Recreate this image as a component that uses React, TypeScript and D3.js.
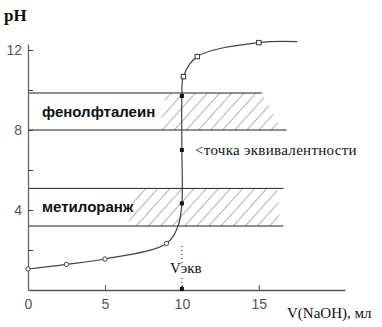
import React, { useEffect, useRef } from "react";
import * as d3 from "d3";

// Titration curve: volume of NaOH (ml) vs pH
const volume = [0, 2.5, 5, 9, 9.75, 10, 10, 10, 10.1, 11, 15, 17.5];
const phValues = [1.05, 1.28, 1.55, 2.33, 3.2, 4.33, 7.0, 9.7, 10.67, 11.67, 12.37, 12.42];

// Markers on the curve
const openCircleV = [0, 2.5, 5, 9];
const openCirclePh = [1.05, 1.28, 1.55, 2.33];
const openSquareV = [10.1, 11, 15];
const openSquarePh = [10.67, 11.67, 12.37];
const filledV = [10, 10, 10];
const filledPh = [4.33, 7.0, 9.7];

// Indicator transition ranges (pH)
const indicatorNames = ["фенолфталеин", "метилоранж"];
const indicatorLow = [8.0, 3.2];
const indicatorHigh = [9.85, 5.08];
const indicatorLineEndTop = [15.2, 16.6];
const indicatorLineEndBottom = [16.8, 16.6];
const hatchStart = [9.0, 7.0];
const hatchEndTop = [15.2, 16.2];
const hatchEndBottom = [16.5, 16.4];

const xTicks = [0, 5, 10, 15];
const yTicks = [2, 4, 6, 8, 10, 12];
const yLabelled = [4, 8, 12];
const equivalenceV = 10;

const W = 382;
const H = 327;

export default function App() {
  const xAxisRef = useRef<SVGGElement>(null);
  const yAxisRef = useRef<SVGGElement>(null);

  const x = d3.scaleLinear().domain([0, 20.6]).range([28, 345]);
  const y = d3.scaleLinear().domain([0, 12.3]).range([290, 44]);

  useEffect(() => {
    const xa = d3
      .axisBottom(x)
      .tickValues(xTicks)
      .tickSizeInner(-5)
      .tickSizeOuter(0)
      .tickPadding(9)
      .tickFormat((d) => String(d));
    const gx = d3.select(xAxisRef.current!);
    gx.call(xa as any);
    gx.select(".domain").attr("stroke", "#555").attr("stroke-width", 1.3);
    gx.selectAll(".tick line").attr("stroke", "#555");
    gx.selectAll(".tick text")
      .attr("fill", "#555")
      .attr("font-family", "Liberation Sans, Arial, sans-serif")
      .attr("font-size", 14);

    const ya = d3
      .axisLeft(y)
      .tickValues(yTicks)
      .tickSizeInner(-5)
      .tickSizeOuter(0)
      .tickPadding(6)
      .tickFormat((d) => (yLabelled.includes(d as number) ? String(d) : ""));
    const gy = d3.select(yAxisRef.current!);
    gy.call(ya as any);
    gy.select(".domain").attr("stroke", "#666").attr("stroke-width", 1.3);
    gy.selectAll(".tick line").attr("stroke", "#444");
    gy.selectAll(".tick text")
      .attr("fill", "#555")
      .attr("font-family", "Liberation Sans, Arial, sans-serif")
      .attr("font-size", 14);
  }, []);

  const pts: [number, number][] = volume.map((v, i) => [v, phValues[i]]);
  const line = d3
    .line<[number, number]>()
    .x((d) => x(d[0]))
    .y((d) => y(d[1]))
    .curve(d3.curveCatmullRom.alpha(0.5));

  const serif = "Liberation Serif, Times New Roman, serif";

  return (
    <svg
      width={W}
      height={H}
      style={{ position: "absolute", left: 0, top: 0, background: "#fff" }}
    >
      <defs>
        <pattern
          id="hatch"
          patternUnits="userSpaceOnUse"
          width={9}
          height={9}
          patternTransform="rotate(42)"
        >
          <line x1={0} y1={0} x2={0} y2={9} stroke="#666" strokeWidth={1} />
        </pattern>
      </defs>

      {/* indicator bands */}
      {indicatorNames.map((name, i) => {
        const yt = y(indicatorHigh[i]);
        const yb = y(indicatorLow[i]);
        const poly = [
          [x(hatchStart[i]), yt],
          [x(hatchEndTop[i]), yt],
          [x(hatchEndBottom[i]), yb],
          [x(hatchStart[i]) - 8, yb],
        ]
          .map((p) => p.join(","))
          .join(" ");
        return (
          <g key={name}>
            <polygon points={poly} fill="url(#hatch)" />
            <line
              x1={x(0)}
              x2={x(indicatorLineEndTop[i])}
              y1={yt}
              y2={yt}
              stroke="#222"
              strokeWidth={1}
            />
            <line
              x1={x(0)}
              x2={x(indicatorLineEndBottom[i])}
              y1={yb}
              y2={yb}
              stroke="#222"
              strokeWidth={1}
            />
            <text
              x={42}
              y={(yt + yb) / 2 + 5}
              fontFamily="Liberation Sans, Arial, sans-serif"
              fontWeight="bold"
              fontSize={15}
              fill="#111"
            >
              {name}
            </text>
          </g>
        );
      })}

      <g ref={xAxisRef} transform={`translate(0,${y(0)})`} />
      <g ref={yAxisRef} transform={`translate(${x(0)},0)`} />

      {/* equivalence volume marker */}
      <line
        x1={x(equivalenceV)}
        x2={x(equivalenceV)}
        y1={y(2.2)}
        y2={y(1.35)}
        stroke="#111"
        strokeDasharray="1,3"
      />
      <line
        x1={x(equivalenceV)}
        x2={x(equivalenceV)}
        y1={y(0.6)}
        y2={y(0)}
        stroke="#111"
        strokeDasharray="1,3"
      />
      <rect x={x(equivalenceV) - 2} y={y(0) - 3} width={4} height={4} fill="#111" />
      <text x={x(equivalenceV) - 12} y={y(0.85)} fontFamily={serif} fontSize={15} fill="#111">
        Vэкв
      </text>

      {/* titration curve */}
      <path d={line(pts) || ""} fill="none" stroke="#444" strokeWidth={1.2} />

      {openCircleV.map((v, i) => (
        <circle
          key={"c" + i}
          cx={x(v)}
          cy={y(openCirclePh[i])}
          r={2.2}
          fill="#fff"
          stroke="#444"
          strokeWidth={1}
        />
      ))}
      {openSquareV.map((v, i) => (
        <rect
          key={"s" + i}
          x={x(v) - 2.2}
          y={y(openSquarePh[i]) - 2.2}
          width={4.4}
          height={4.4}
          fill="#fff"
          stroke="#333"
          strokeWidth={1}
        />
      ))}
      {filledV.map((v, i) => (
        <rect
          key={"f" + i}
          x={x(v) - 2}
          y={y(filledPh[i]) - 2}
          width={4}
          height={4}
          fill="#111"
        />
      ))}

      <text
        x={195}
        y={y(7) + 5}
        fontFamily={serif}
        fontSize={15}
        letterSpacing={0.3}
        fill="#111"
      >
        {"<точка эквивалентности"}
      </text>

      <text x={4} y={21} fontFamily={serif} fontSize={17} fontWeight="bold" fill="#111">
        pH
      </text>
      <text x={287} y={318} fontFamily={serif} fontSize={15} fill="#111">
        V(NaOH), мл
      </text>
    </svg>
  );
}
